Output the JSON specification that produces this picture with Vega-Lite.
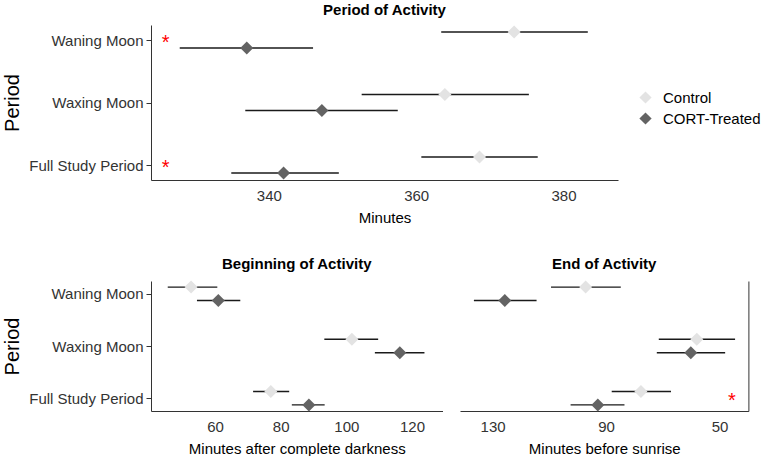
{
  "$schema": "https://vega.github.io/schema/vega-lite/v6.json",
  "padding": {"left": 2, "top": 3, "right": 0, "bottom": 0},
  "background": "white",
  "datasets": {
    "period": [
      {"Period": "Waning Moon", "Group": "Control", "mean": 373.3, "lower": 363.4, "upper": 383.3},
      {"Period": "Waning Moon", "Group": "CORT-Treated", "mean": 337.0, "lower": 327.9, "upper": 346.0},
      {"Period": "Waxing Moon", "Group": "Control", "mean": 363.9, "lower": 352.6, "upper": 375.3},
      {"Period": "Waxing Moon", "Group": "CORT-Treated", "mean": 347.2, "lower": 336.8, "upper": 357.5},
      {"Period": "Full Study Period", "Group": "Control", "mean": 368.6, "lower": 360.7, "upper": 376.5},
      {"Period": "Full Study Period", "Group": "CORT-Treated", "mean": 342.0, "lower": 334.9, "upper": 349.5}
    ],
    "begin": [
      {"Period": "Waning Moon", "Group": "Control", "mean": 52.7, "lower": 45.6, "upper": 60.7},
      {"Period": "Waning Moon", "Group": "CORT-Treated", "mean": 61.0, "lower": 54.5, "upper": 67.7},
      {"Period": "Waxing Moon", "Group": "Control", "mean": 101.7, "lower": 93.3, "upper": 109.7},
      {"Period": "Waxing Moon", "Group": "CORT-Treated", "mean": 116.3, "lower": 108.7, "upper": 123.8},
      {"Period": "Full Study Period", "Group": "Control", "mean": 77.0, "lower": 71.6, "upper": 82.6},
      {"Period": "Full Study Period", "Group": "CORT-Treated", "mean": 88.6, "lower": 83.4, "upper": 93.4}
    ],
    "end": [
      {"Period": "Waning Moon", "Group": "Control", "mean": 97.2, "lower": 84.8, "upper": 109.4},
      {"Period": "Waning Moon", "Group": "CORT-Treated", "mean": 125.7, "lower": 114.5, "upper": 136.6},
      {"Period": "Waxing Moon", "Group": "Control", "mean": 58.0, "lower": 44.5, "upper": 71.4},
      {"Period": "Waxing Moon", "Group": "CORT-Treated", "mean": 60.1, "lower": 48.0, "upper": 72.1},
      {"Period": "Full Study Period", "Group": "Control", "mean": 77.7, "lower": 67.1, "upper": 88.0},
      {"Period": "Full Study Period", "Group": "CORT-Treated", "mean": 92.9, "lower": 83.5, "upper": 102.5}
    ],
    "stars": [
      {"panel": "period", "Period": "Waning Moon", "x": 326},
      {"panel": "period", "Period": "Full Study Period", "x": 326},
      {"panel": "end", "Period": "Full Study Period", "x": 45.6}
    ]
  },
  "config": {
    "font": "Liberation Sans",
    "view": {"stroke": null},
    "axis": {
      "grid": false, "domainColor": "#333", "tickColor": "#333", "labelColor": "#333",
      "labelFontSize": 15, "titleFontSize": 15, "titleFontWeight": "normal", "titleColor": "#000",
      "labelFont": "Liberation Sans", "titleFont": "Liberation Sans"
    },
    "title": {"fontSize": 15, "fontWeight": "bold", "color": "#000", "font": "Liberation Sans"}
  },
  "resolve": {"legend": {"color": "independent"}},
  "spacing": 31,
  "vconcat": [
    {
      "title": {"text": "Period of Activity", "offset": 7},
      "width": 467,
      "height": 155,
      "data": {"name": "period"},
      "encoding": {
        "y": {"field": "Period", "type": "nominal", "sort": ["Waning Moon", "Waxing Moon", "Full Study Period"],
              "scale": {"type": "point", "padding": 0.24},
              "axis": {"title": "Period", "titleFontSize": 20, "tickSize": 5, "labelPadding": 3, "titlePadding": 6}}
      },
      "layer": [
        {
          "transform": [{"filter": "datum.Group == 'Control'"}],
          "mark": {"type": "rule", "color": "#1a1a1a", "strokeWidth": 1.4, "yOffset": -8},
          "encoding": {
            "x": {"field": "lower", "type": "quantitative", "scale": {"domain": [324, 387.4], "nice": false, "zero": false},
                  "axis": {"title": "Minutes", "values": [340, 360, 380], "ticks": false, "tickSize": 0, "labelPadding": 8, "titlePadding": 7}},
            "x2": {"field": "upper"}
          }
        },
        {
          "transform": [{"filter": "datum.Group == 'CORT-Treated'"}],
          "mark": {"type": "rule", "color": "#1a1a1a", "strokeWidth": 1.4, "yOffset": 8},
          "encoding": {
            "x": {"field": "lower", "type": "quantitative"},
            "x2": {"field": "upper"}
          }
        },
        {
          "transform": [{"filter": "datum.Group == 'Control'"}],
          "mark": {"type": "point", "shape": "diamond", "filled": true, "size": 170, "opacity": 1, "yOffset": -8},
          "encoding": {
            "x": {"field": "mean", "type": "quantitative"},
            "color": {"field": "Group", "type": "nominal",
                      "scale": {"domain": ["Control", "CORT-Treated"], "range": ["#e3e3e3", "#636363"]},
                      "legend": {"title": null, "orient": "none", "legendX": 487, "legendY": 65, "symbolType": "diamond", "symbolSize": 150,
                                 "labelFontSize": 15, "labelColor": "#000", "labelOffset": 10, "rowPadding": 5}}
          }
        },
        {
          "transform": [{"filter": "datum.Group == 'CORT-Treated'"}],
          "mark": {"type": "point", "shape": "diamond", "filled": true, "size": 170, "opacity": 1, "yOffset": 8},
          "encoding": {
            "x": {"field": "mean", "type": "quantitative"},
            "color": {"field": "Group", "type": "nominal"}
          }
        },
        {
          "data": {"name": "stars"},
          "transform": [{"filter": "datum.panel == 'period'"}],
          "mark": {"type": "text", "text": "*", "color": "red", "fontSize": 20, "baseline": "middle", "dy": 3},
          "encoding": {
            "x": {"field": "x", "type": "quantitative"}
          }
        }
      ]
    },
    {
      "spacing": 17,
      "hconcat": [
        {
          "title": {"text": "Beginning of Activity", "offset": 9},
          "width": 291.5,
          "height": 130,
          "data": {"name": "begin"},
          "encoding": {
            "y": {"field": "Period", "type": "nominal", "sort": ["Waning Moon", "Waxing Moon", "Full Study Period"],
                  "scale": {"type": "point", "padding": 0.245},
                  "axis": {"title": "Period", "titleFontSize": 20, "tickSize": 5, "labelPadding": 3, "titlePadding": 6}}
          },
          "layer": [
            {
              "transform": [{"filter": "datum.Group == 'Control'"}],
              "mark": {"type": "rule", "color": "#1a1a1a", "strokeWidth": 1.4, "yOffset": -6.7},
              "encoding": {
                "x": {"field": "lower", "type": "quantitative", "scale": {"domain": [40.5, 129.3], "nice": false, "zero": false},
                      "axis": {"title": "Minutes after complete darkness", "values": [60, 80, 100, 120], "ticks": false, "tickSize": 0, "labelPadding": 8, "titlePadding": 7}},
                "x2": {"field": "upper"}
              }
            },
            {
              "transform": [{"filter": "datum.Group == 'CORT-Treated'"}],
              "mark": {"type": "rule", "color": "#1a1a1a", "strokeWidth": 1.4, "yOffset": 6.7},
              "encoding": {
                "x": {"field": "lower", "type": "quantitative"},
                "x2": {"field": "upper"}
              }
            },
            {
              "transform": [{"filter": "datum.Group == 'Control'"}],
              "mark": {"type": "point", "shape": "diamond", "filled": true, "size": 170, "opacity": 1, "yOffset": -6.7},
              "encoding": {
                "x": {"field": "mean", "type": "quantitative"},
                "color": {"field": "Group", "type": "nominal",
                          "scale": {"domain": ["Control", "CORT-Treated"], "range": ["#e3e3e3", "#636363"]},
                          "legend": null}
              }
            },
            {
              "transform": [{"filter": "datum.Group == 'CORT-Treated'"}],
              "mark": {"type": "point", "shape": "diamond", "filled": true, "size": 170, "opacity": 1, "yOffset": 6.7},
              "encoding": {
                "x": {"field": "mean", "type": "quantitative"},
                "color": {"field": "Group", "type": "nominal", "legend": null}
              }
            }
          ]
        },
        {
          "title": {"text": "End of Activity", "offset": 9},
          "width": 288.4,
          "height": 130,
          "data": {"name": "end"},
          "encoding": {
            "y": {"field": "Period", "type": "nominal", "sort": ["Waning Moon", "Waxing Moon", "Full Study Period"],
                  "scale": {"type": "point", "padding": 0.245},
                  "axis": {"orient": "right", "title": null, "labels": false, "ticks": false, "domain": true}}
          },
          "layer": [
            {
              "transform": [{"filter": "datum.Group == 'Control'"}],
              "mark": {"type": "rule", "color": "#1a1a1a", "strokeWidth": 1.4, "yOffset": -6.7},
              "encoding": {
                "x": {"field": "lower", "type": "quantitative", "scale": {"domain": [39.8, 141.5], "nice": false, "zero": false, "reverse": true},
                      "axis": {"title": "Minutes before sunrise", "values": [130, 90, 50], "ticks": false, "tickSize": 0, "labelPadding": 8, "titlePadding": 7}},
                "x2": {"field": "upper"}
              }
            },
            {
              "transform": [{"filter": "datum.Group == 'CORT-Treated'"}],
              "mark": {"type": "rule", "color": "#1a1a1a", "strokeWidth": 1.4, "yOffset": 6.7},
              "encoding": {
                "x": {"field": "lower", "type": "quantitative"},
                "x2": {"field": "upper"}
              }
            },
            {
              "transform": [{"filter": "datum.Group == 'Control'"}],
              "mark": {"type": "point", "shape": "diamond", "filled": true, "size": 170, "opacity": 1, "yOffset": -6.7},
              "encoding": {
                "x": {"field": "mean", "type": "quantitative"},
                "color": {"field": "Group", "type": "nominal",
                          "scale": {"domain": ["Control", "CORT-Treated"], "range": ["#e3e3e3", "#636363"]},
                          "legend": null}
              }
            },
            {
              "transform": [{"filter": "datum.Group == 'CORT-Treated'"}],
              "mark": {"type": "point", "shape": "diamond", "filled": true, "size": 170, "opacity": 1, "yOffset": 6.7},
              "encoding": {
                "x": {"field": "mean", "type": "quantitative"},
                "color": {"field": "Group", "type": "nominal", "legend": null}
              }
            },
            {
              "data": {"name": "stars"},
              "transform": [{"filter": "datum.panel == 'end'"}],
              "mark": {"type": "text", "text": "*", "color": "red", "fontSize": 20, "baseline": "middle", "dy": 3},
              "encoding": {
                "x": {"field": "x", "type": "quantitative"}
              }
            }
          ]
        }
      ]
    }
  ]
}
